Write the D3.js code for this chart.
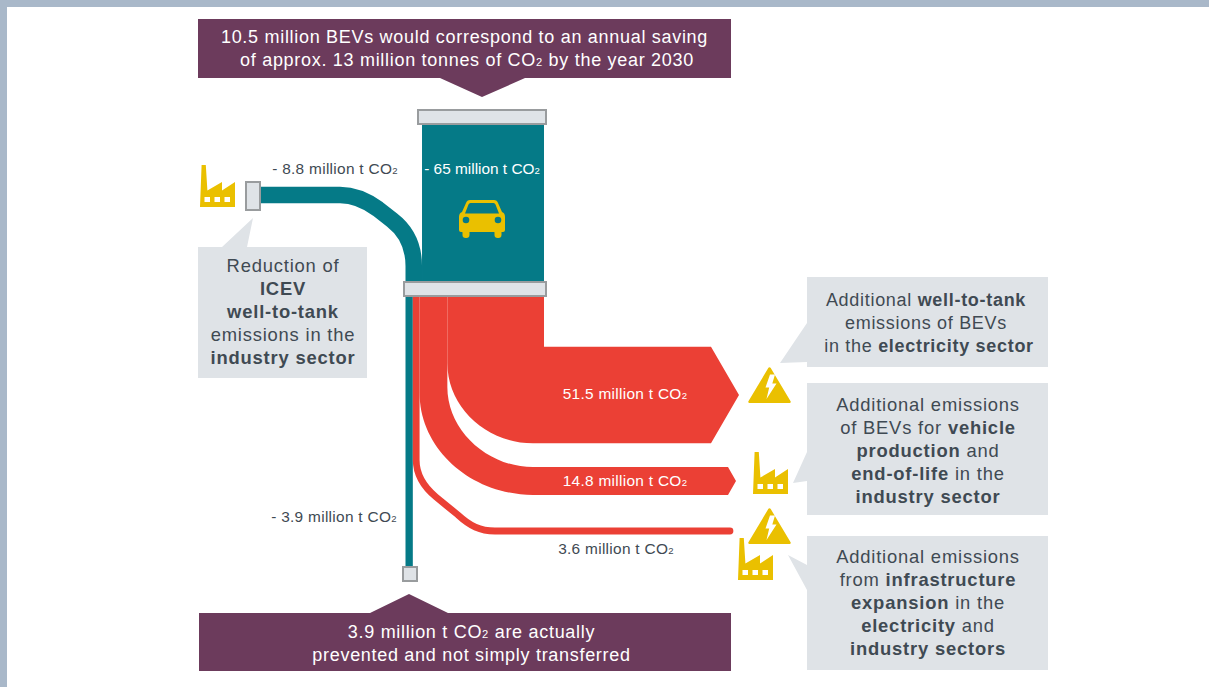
<!DOCTYPE html>
<html><head><meta charset="utf-8">
<script src="https://cdnjs.cloudflare.com/ajax/libs/d3/7.8.5/d3.min.js"></script>
<style>html,body{margin:0;padding:0;background:#fff}svg{display:block}text{font-family:"Liberation Sans",Arial,sans-serif}</style>
</head><body><div id="c"></div>
<script>
// ---- data (million t CO2) ----
const inflowNames = ["ICEV well-to-tank", "ICEV tank-to-wheel"];
const inflowValues = [8.8, 65];
const outflowNames = ["Prevented", "Infrastructure", "Production", "Electricity"];
const outflowValues = [3.9, 3.6, 14.8, 51.5];
const inflowLabels = ["- 8.8 million t ", "- 65 million t "];
const outflowLabels = ["- 3.9 million t ", "3.6 million t ", "14.8 million t ", "51.5 million t "];
const topNote1 = ["10.5 million BEVs would correspond to an annual saving"];
const topNote2 = ["of approx. 13 million tonnes of CO|2| by the year 2030"];
const bottomNote = ["3.9 million t CO|2| are actually", "prevented and not simply transferred"];
const leftNote = [["Reduction of"], ["*ICEV"], ["*well-to-tank"], ["emissions in the"], ["*industry sector"]];
const rightNote1a = [["Additional ", "*well-to-tank"], ["emissions of BEVs"]];
const rightNote1b = [["in the ", "*electricity sector"]];
const rightNote2 = [["Additional emissions"], ["of BEVs for ", "*vehicle"], ["*production", " and"], ["*end-of-life", " in the"], ["*industry sector"]];
const rightNote3 = [["Additional emissions"], ["from ", "*infrastructure"], ["*expansion", " in the"], ["*electricity", " and"], ["*industry sectors"]];

const W = 1209, H = 687;
const TEAL = "#057a87", RED = "#eb4035", PLUM = "#6c3b5c", GREY = "#dfe3e7", EDGE = "#999c9e",
      YEL = "#eac000", INK = "#3f4a53", FRAME = "#a9b8c9";

const svg = d3.select("#c").append("svg").attr("width", W).attr("height", H);
svg.append("rect").attr("width", W).attr("height", 7).attr("fill", FRAME);
svg.append("rect").attr("width", 7).attr("height", H).attr("fill", FRAME);

// Sankey position scale: outflows stack up across the collector bar
const total = d3.sum(outflowValues);
const x = d3.scaleLinear().domain([0, total]).range([405.5, 544]);
const thick = v => x(v) - x(0);
const outStack = d3.cumsum(outflowValues);
const outStart = i => x(i ? outStack[i - 1] : 0), outEnd = i => x(outStack[i]);
const yBar = 296, yIn = 124, yMid = 282;

const g = svg.append("g");
const poly = (pts, fill, parent = g) => parent.append("path").attr("d", d3.line()(pts) + "Z").attr("fill", fill);

// 65 Mt block
g.append("rect").attr("x", x(total) - thick(inflowValues[1])).attr("y", yIn)
 .attr("width", thick(inflowValues[1])).attr("height", yMid - yIn + 2).attr("fill", TEAL);

// 8.8 Mt stream
{
  const w = thick(inflowValues[0]), cx = x(total) - thick(inflowValues[1]) - w / 2, p = d3.path();
  p.moveTo(258, 195); p.lineTo(340, 195);
  p.bezierCurveTo(355, 195, 367, 201, 378, 209);
  p.lineTo(392, 220);
  p.bezierCurveTo(405, 230, cx, 245, cx, 266);
  p.lineTo(cx, 284);
  g.append("path").attr("d", p.toString()).attr("fill", "none").attr("stroke", TEAL).attr("stroke-width", w);
}
// 3.9 Mt stream
g.append("path").attr("d", d3.line()([[(outStart(0) + outEnd(0)) / 2, 290], [(outStart(0) + outEnd(0)) / 2, 566]]))
 .attr("fill", "none").attr("stroke", TEAL).attr("stroke-width", thick(outflowValues[0]));

// 3.6 Mt stream
{
  const cx = (outStart(1) + outEnd(1)) / 2, p = d3.path();
  p.moveTo(cx, yBar - 6); p.lineTo(cx, 460);
  p.bezierCurveTo(cx, 476, 424, 487, 436, 497);
  p.lineTo(458, 515);
  p.bezierCurveTo(470, 526, 480, 531, 495, 531);
  p.lineTo(730, 531);
  g.append("path").attr("d", p.toString()).attr("fill", "none").attr("stroke", RED)
   .attr("stroke-linecap", "round").attr("stroke-width", thick(outflowValues[1]));
}
// 14.8 Mt stream
{
  const a = outStart(2), b = outEnd(2), t = thick(outflowValues[2]), cy = 481, p = d3.path();
  const top = cy - t / 2, bot = cy + t / 2;
  p.moveTo(a, yBar - 6); p.lineTo(b, yBar - 6); p.lineTo(b, 387);
  p.bezierCurveTo(b, 431, 488, top, 533, top);
  p.lineTo(728, top); p.lineTo(736, cy); p.lineTo(728, bot); p.lineTo(533, bot);
  p.bezierCurveTo(471, bot, a, 449, a, 393);
  p.closePath();
  g.append("path").attr("d", p.toString()).attr("fill", RED);
}
// 51.5 Mt stream
{
  const a = outStart(3), b = outEnd(3), t = thick(outflowValues[3]), cy = 395, p = d3.path();
  const top = cy - t / 2, bot = cy + t / 2;
  p.moveTo(a, yBar - 6); p.lineTo(b, yBar - 6); p.lineTo(b, top);
  p.lineTo(711, top); p.lineTo(739, cy); p.lineTo(711, bot); p.lineTo(533, bot);
  p.bezierCurveTo(486, bot, a, 407, a, 363);
  p.closePath();
  g.append("path").attr("d", p.toString()).attr("fill", RED);
}

// collector bars
const bar = (x0, y0, x1, y1) => g.append("rect").attr("x", x0 + 1).attr("y", y0 + 1).attr("width", x1 - x0 - 2).attr("height", y1 - y0 - 2)
  .attr("fill", GREY).attr("stroke", EDGE).attr("stroke-width", 2);
bar(417, 109, 547, 125);
bar(403, 281, 547, 297);
bar(245, 181, 261, 211);
bar(402, 566, 418, 582);

// callout boxes
poly([[198, 19], [731, 19], [731, 78], [525, 78], [482, 97], [440, 78], [198, 78]], PLUM);
poly([[199, 613], [370, 613], [409, 594], [448, 613], [731, 613], [731, 671], [199, 671]], PLUM);
poly([[198, 247], [222, 247], [253, 218], [247, 247], [367, 247], [367, 378], [198, 378]], GREY);
poly([[807, 277], [1048, 277], [1048, 367], [807, 367], [807, 362], [780, 363], [807, 323]], GREY);
poly([[807, 383], [1048, 383], [1048, 515], [807, 515], [807, 481], [793, 483], [807, 452]], GREY);
poly([[807, 536], [1048, 536], [1048, 670], [807, 670], [807, 590], [788, 555], [807, 565]], GREY);

// text helpers
function rich(sel, runs, size) {
  runs.forEach(r => {
    if (r[0] === "*") sel.append("tspan").attr("font-weight", "bold").text(r.slice(1));
    else {
      r.split("|").forEach((part, i) => {
        const t = sel.append("tspan").text(part);
        if (i === 1) t.attr("font-size", size * 0.62);
      });
    }
  });
}
function block(lines, cx, y0, dy, size, fill, ls = 0.7) {
  lines.forEach((runs, i) => {
    const t = svg.append("text").attr("x", cx).attr("y", y0 + i * dy).attr("text-anchor", "middle")
      .attr("font-size", size).attr("fill", fill).attr("letter-spacing", ls);
    rich(t, Array.isArray(runs) ? runs : [runs], size);
  });
}
block(topNote1, 464.5, 43, 23, 18, "#fff");
block(topNote2, 467, 66, 23, 18, "#fff");
block(bottomNote, 471.5, 638, 23, 18, "#fff");
block(leftNote, 283, 272, 23, 18.4, INK, 0.8);
block(rightNote1a, 926, 306, 23, 18, INK);
block(rightNote1b, 929, 352, 23, 18, INK);
block(rightNote2, 928, 411, 23, 18.4, INK, 0.8);
block(rightNote3, 928, 563, 23, 18.4, INK, 0.8);

// flow labels
const lab = (s, cx, y, fill, ls = 0.3) => block([[s + "CO|2|"]], cx, y, 0, 15.4, fill, ls);
lab(inflowLabels[0], 335, 174, INK);
lab(inflowLabels[1], 482, 174, "#fff", 0);
lab(outflowLabels[0], 334, 522, INK);
lab(outflowLabels[1], 616, 554, INK);
lab(outflowLabels[2], 625, 486, "#fff");
lab(outflowLabels[3], 625, 399, "#fff");

// icons
function factory(px, py) {
  const f = svg.append("g").attr("transform", `translate(${px},${py})`);
  f.append("path").attr("fill", YEL).attr("d", "M1.6,0H5.8L7.4,25.5L22,17V25.5L35,17V42H0Z");
  f.selectAll("rect").data([4.5, 14.5, 24.5]).join("rect").attr("x", d => d).attr("y", 32).attr("width", 5.5).attr("height", 5).attr("fill", "#fff");
}
factory(200, 165); factory(753, 452); factory(738, 538);
function warn(cx, top) {
  const f = svg.append("g").attr("transform", `translate(${cx},${top})`);
  f.append("path").attr("fill", YEL).attr("stroke", YEL).attr("stroke-width", 2.5).attr("stroke-linejoin", "round")
   .attr("d", "M0,1.5L20,34.8H-20Z");
  f.append("path").attr("fill", "#fff").attr("d", "M0.5,7.5H5.5L2.8,16.5H7L-3,32L-0.3,20.5H-4Z");
}
warn(769.5, 367); warn(769.5, 508);
// car
{
  const f = svg.append("g").attr("transform", "translate(482,219)").attr("fill", YEL);
  f.append("path").attr("fill-rule", "evenodd").attr("d",
    "M-12,-19H12Q15,-19 16,-16L20,-7Q23,-6 23,-2V11Q23,13 21,13H-21Q-23,13 -23,11V-2Q-23,-6 -20,-7L-16,-16Q-15,-19 -12,-19Z" +
    "M-11.5,-16Q-13,-16 -13.5,-14.5L-17,-5.5H17L13.5,-14.5Q13,-16 11.5,-16Z");
  f.selectAll("rect").data([-19.5, 12.5]).join("rect").attr("x", d => d).attr("y", 10).attr("width", 7).attr("height", 9).attr("rx", 3.2);
  f.selectAll("circle").data([-16, 16]).join("circle").attr("cx", d => d).attr("cy", 1).attr("r", 3.3).attr("fill", TEAL);
}
</script></body></html>
